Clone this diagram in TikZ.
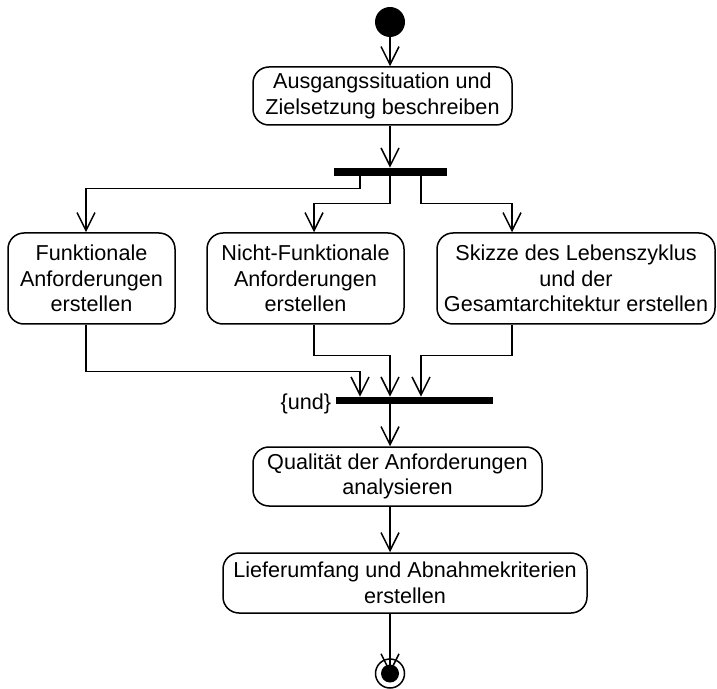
\documentclass[tikz,border=0pt]{standalone}
\usepackage{fontspec}
\setmainfont{Liberation Sans}
\usetikzlibrary{arrows.meta, positioning}

\begin{document}
\begin{tikzpicture}[x=0.5pt, y=-0.5pt,
    box/.style={rectangle, rounded corners=8pt, draw, line width=0.75pt, align=center,
                inner sep=0pt, font=\fontsize{10.8}{12.8}\selectfont},
    bar/.style={rectangle, fill=black, inner sep=0pt},
    lbl/.style={inner sep=0pt, font=\fontsize{10.8}{12.8}\selectfont},
    flow/.style={line width=0.75pt, -{Straight Barb[length=9pt, width=9pt]}}]

    \useasboundingbox (0,0) rectangle (717,689);

    % Start
    \node[circle, fill=black, minimum size=15pt, inner sep=0pt] (start) at (390,22) {};
    \node[box, minimum width=129.5pt, minimum height=29pt] (situation) at (382.5,96) {Ausgangssituation und\\Zielsetzung beschreiben};

    % Fork
    \node[bar, minimum width=56.5pt, minimum height=4pt] (fork) at (390.5,172) {};

    % Parallel activities
    \node[box, minimum width=83.5pt, minimum height=45.5pt] (funk) at (91.5,278.5) {Funktionale\\Anforderungen\\erstellen};
    \node[box, minimum width=98.5pt, minimum height=45.5pt] (nfunk) at (305.5,278.5) {Nicht-Funktionale\\Anforderungen\\erstellen};
    \node[box, minimum width=139pt, minimum height=45.5pt] (skizze) at (576,278.5) {Skizze des Lebenszyklus\\und der\\Gesamtarchitektur erstellen};

    % Join
    \node[bar, minimum width=78.5pt, minimum height=3.5pt] (join) at (414.5,400.5) {};
    \node[lbl, left=2pt of join, yshift=-1.5pt] (und) {\{und\}};

    % Rest
    \node[box, minimum width=144.5pt, minimum height=29.5pt] (quali) at (397.5,476.5) {Qualit\"at der Anforderungen\\analysieren};
    \node[box, minimum width=182pt, minimum height=30pt] (liefer) at (405,583) {Lieferumfang und Abnahmekriterien\\erstellen};
    \node[circle, draw, fill=white, line width=0.75pt, minimum size=14.5pt, inner sep=0pt] (final) at (390,673.5) {};

    % Arrows
    \draw[flow] (start) -- (situation.north -| start);
    \draw[flow] (situation.south -| start) -- (fork.north -| start);
    \draw[flow] ([xshift=-15.25pt]fork.south) -- ++(0,12) -| ([xshift=-2.75pt]funk.north);
    \draw[flow] (fork.south -| start) -- ++(0,27) -| ([xshift=4.25pt]nfunk.north);
    \draw[flow] ([xshift=15.25pt]fork.south) -- ++(0,27) -| ([xshift=-32pt]skizze.north);
    \draw[flow] ([xshift=-2.75pt]funk.south) -- ++(0,47) -| ([xshift=-27.25pt]join.north);
    \draw[flow] ([xshift=4.25pt]nfunk.south) -- ++(0,31) -| (join.north -| start);
    \draw[flow] ([xshift=-32pt]skizze.south) -- ++(0,31) -| ([xshift=3.25pt]join.north);
    \draw[flow] (join.south -| start) -- (quali.north -| start);
    \draw[flow] (quali.south -| start) -- (liefer.north -| start);
    \draw[flow] (liefer.south -| start) -- (final.center);
    \fill (final) circle[radius=4.5pt];
\end{tikzpicture}
\end{document}
